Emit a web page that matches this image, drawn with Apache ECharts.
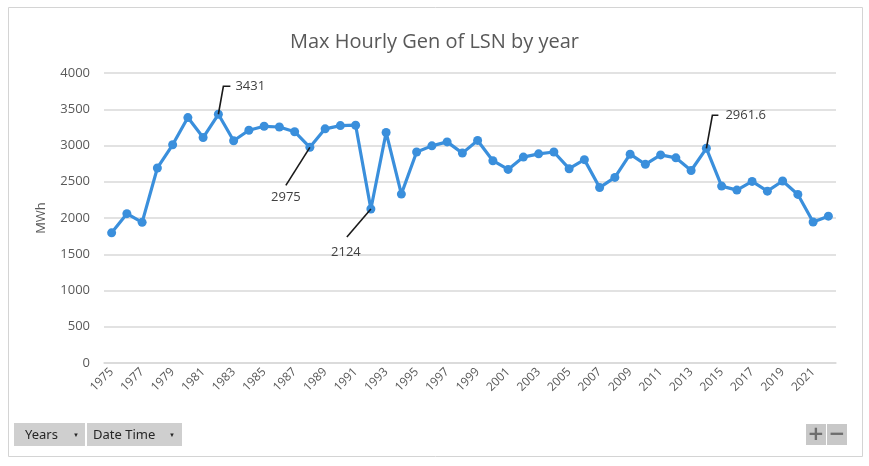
<!DOCTYPE html>
<html>
<head>
<meta charset="utf-8">
<title>Max Hourly Gen of LSN by year</title>
<script src="https://cdn.jsdelivr.net/npm/echarts@6/dist/echarts.min.js"></script>
<style>
  html, body { margin: 0; padding: 0; background: #ffffff; }
  #chart { width: 869px; height: 466px; }
</style>
</head>
<body>
<div id="chart"></div>
<script>
/* =========================================
   1. DATA
   ========================================= */
const years = [
  "1975", "1976", "1977", "1978", "1979", "1980", "1981", "1982", "1983", "1984",
  "1985", "1986", "1987", "1988", "1989", "1990", "1991", "1992", "1993", "1994",
  "1995", "1996", "1997", "1998", "1999", "2000", "2001", "2002", "2003", "2004",
  "2005", "2006", "2007", "2008", "2009", "2010", "2011", "2012", "2013", "2014",
  "2015", "2016", "2017", "2018", "2019", "2020", "2021", "2022",
];

const maxHourlyGen = [
  1795, 2060, 1940, 2690, 3010, 3385, 3110, 3431, 3065, 3210,
  3265, 3255, 3190, 2975, 3230, 3275, 3280, 2124, 3180, 2330,
  2910, 2995, 3050, 2895, 3070, 2790, 2670, 2840, 2885, 2910,
  2680, 2805, 2420, 2560, 2880, 2740, 2870, 2830, 2655, 2961.6,
  2440, 2385, 2505, 2370, 2510, 2325, 1945, 2025,
];

// years that get a data label with a leader line
const calloutYears = ["1982", "1988", "1992", "2014"];

/* =========================================
   2. CALLOUT GRAPHICS (leader lines + labels)
   ========================================= */
// offsets in px from the data point: leader line points and label anchor
const calloutStyle = {
  "1982": { line: [[5, -28], [12, -28]], text: [17, -28], align: "left", vAlign: "middle" },
  "1988": { line: [[-24, 38]], text: [-24, 43], align: "center", vAlign: "top" },
  "1992": { line: [[-24, 28]], text: [-25, 37], align: "center", vAlign: "top" },
  "2014": { line: [[6, -33], [12, -33]], text: [19, -33], align: "left", vAlign: "middle" },
};

function buildCallouts(chart) {
  const items = [];
  calloutYears.forEach((year) => {
    const idx = years.indexOf(year);
    const value = maxHourlyGen[idx];
    const p = chart.convertToPixel({ seriesIndex: 0 }, [idx, value]);
    const s = calloutStyle[year];
    const pts = [[p[0], p[1]]].concat(s.line.map((o) => [p[0] + o[0], p[1] + o[1]]));
    items.push({
      type: "polyline",
      z: 100,
      shape: { points: pts },
      style: { stroke: "#1a1a1a", lineWidth: 1.6, fill: null },
    });
    items.push({
      type: "text",
      z: 100,
      x: p[0] + s.text[0],
      y: p[1] + s.text[1],
      style: {
        text: String(value),
        fill: "#404040",
        font: "13px 'Open Sans', sans-serif",
        align: s.align,
        verticalAlign: s.vAlign,
      },
    });
  });
  return items;
}

/* =========================================
   3. FRAME AND FIELD BUTTONS
   ========================================= */
function buildFrame() {
  const btnFill = "#cfcfcf";
  const btnText = "#262626";
  return [
    {
      type: "rect",
      z: -10,
      shape: { x: 8.5, y: 7.5, width: 854, height: 449 },
      style: { fill: null, stroke: "#d4d4d4", lineWidth: 1 },
    },
    // "Years" button
    { type: "rect", shape: { x: 14, y: 423, width: 71, height: 23 }, style: { fill: btnFill } },
    { type: "text", x: 25, y: 435, style: { text: "Years", fill: btnText, font: "13px 'Liberation Sans Narrow', 'Noto Sans', sans-serif", verticalAlign: "middle" } },
    { type: "text", x: 76, y: 435, style: { text: "▼", fill: btnText, font: "6px sans-serif", align: "center", verticalAlign: "middle" } },
    // "Date Time" button
    { type: "rect", shape: { x: 87, y: 423, width: 95, height: 23 }, style: { fill: btnFill } },
    { type: "text", x: 93, y: 435, style: { text: "Date Time", fill: btnText, font: "13px 'Liberation Sans Narrow', 'Noto Sans', sans-serif", verticalAlign: "middle" } },
    { type: "text", x: 172, y: 435, style: { text: "▼", fill: btnText, font: "6px sans-serif", align: "center", verticalAlign: "middle" } },
    // zoom buttons
    { type: "rect", shape: { x: 806, y: 424, width: 20, height: 21 }, style: { fill: "#c8c8c8" } },
    { type: "text", x: 816, y: 435, style: { text: "+", fill: "#6e6e6e", font: "bold 20px 'DejaVu Sans', sans-serif", align: "center", verticalAlign: "middle" } },
    { type: "rect", shape: { x: 827, y: 424, width: 20, height: 21 }, style: { fill: "#c8c8c8" } },
    { type: "text", x: 837, y: 435, style: { text: "−", fill: "#6e6e6e", font: "bold 20px 'DejaVu Sans', sans-serif", align: "center", verticalAlign: "middle" } },
  ];
}

/* =========================================
   4. ECHART INITIALIZATION
   ========================================= */
function initECharts() {
  const chartDom = document.getElementById("chart");
  const chart = echarts.init(chartDom, null, { renderer: "canvas" });

  const option = {
    backgroundColor: "#ffffff",
    animation: false,
    title: {
      text: "Max Hourly Gen of LSN by year",
      left: "center",
      top: 27,
      textStyle: {
        color: "#595959",
        fontSize: 20,
        fontWeight: "normal",
        fontFamily: "'Open Sans', sans-serif",
      },
    },
    grid: { left: 104, right: 33, top: 73, bottom: 103 },
    xAxis: {
      type: "category",
      data: years,
      boundaryGap: true,
      axisLine: { lineStyle: { color: "#d9d9d9", width: 1.5 } },
      axisTick: { show: false },
      axisLabel: {
        interval: 1,
        rotate: 45,
        margin: 7,
        color: "#595959",
        fontSize: 12,
        fontFamily: "'Open Sans', sans-serif",
      },
    },
    yAxis: {
      type: "value",
      min: 0,
      max: 4000,
      interval: 500,
      name: "MWh",
      nameLocation: "middle",
      nameGap: 56,
      nameTextStyle: { color: "#595959", fontSize: 13, fontFamily: "'Open Sans', sans-serif" },
      axisLine: { show: false },
      axisTick: { show: false },
      axisLabel: {
        color: "#595959",
        fontSize: 13,
        margin: 14,
        fontFamily: "'Open Sans', sans-serif",
        formatter: (v) => String(v),
      },
      splitLine: { lineStyle: { color: "#d9d9d9", width: 1.5 } },
    },
    series: [
      {
        name: "Max Hourly Gen",
        type: "line",
        data: maxHourlyGen,
        symbol: "circle",
        symbolSize: 9,
        lineStyle: { color: "#3a8fdc", width: 3.2 },
        itemStyle: { color: "#3a8fdc" },
      },
    ],
  };

  chart.setOption(option);
  chart.setOption({ graphic: buildFrame().concat(buildCallouts(chart)) });
}

/* =========================================
   5. MAIN INITIALIZATION
   ========================================= */
document.addEventListener("DOMContentLoaded", () => {
  initECharts();
});
</script>
</body>
</html>
